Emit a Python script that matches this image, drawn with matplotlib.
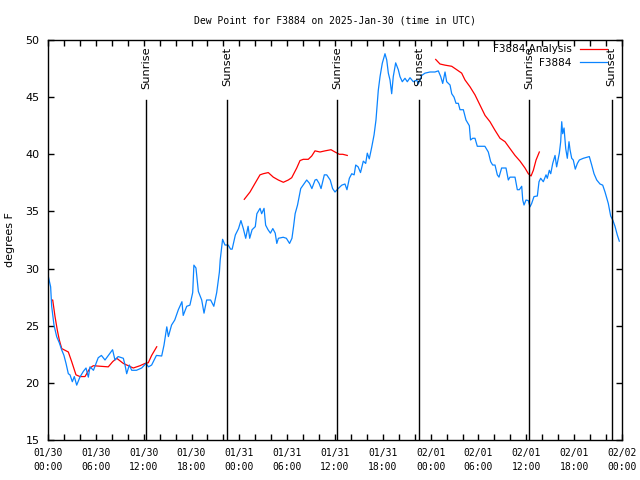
import matplotlib
matplotlib.use("Agg")
import matplotlib.pyplot as plt
from matplotlib.lines import Line2D
import numpy as np

# ---- data (hours since 2025-01-30 00:00 UTC) ----
obs_t = [0.0,0.33,0.46,0.75,1.09,1.42,1.71,2.0,2.26,2.55,2.76,3.05,3.3,3.6,4.0,4.43,4.77,5.06,5.27,5.7,
         6.3,6.7,7.15,7.57,8.1,8.4,8.8,9.45,9.66,9.87,10.2,10.5,11.1,11.75,12.3,12.6,13.0,13.6,14.26,14.55,
         14.9,15.1,15.5,15.9,16.35,16.8,16.96,17.4,17.8,18.15,18.3,18.56,18.86,19.28,19.57,19.9,20.4,20.8,21.16,21.5,
         21.6,21.9,22.2,22.6,22.9,23.1,23.5,23.9,24.2,24.5,24.8,25.1,25.3,25.6,26.0,26.2,26.6,26.8,27.1,27.3,
         27.6,27.9,28.2,28.5,28.7,28.9,29.5,29.9,30.3,30.6,30.8,31.0,31.3,31.5,31.7,32.0,32.45,32.8,33.1,33.5,
         33.7,34.0,34.25,34.66,34.96,35.4,35.7,36.0,36.4,36.85,37.25,37.5,37.8,38.1,38.4,38.6,38.9,39.2,39.55,39.85,
         40.05,40.3,40.6,40.9,41.14,41.43,41.65,41.93,42.27,42.49,42.69,42.9,43.11,43.31,43.61,43.94,44.15,44.44,44.78,45.07,
         45.41,45.82,46.25,46.45,46.88,47.29,47.92,48.54,48.96,49.26,49.51,49.8,50.01,50.43,50.64,50.93,51.18,51.47,51.68,52.1,
         52.43,52.85,53.0,53.27,53.56,53.85,54.3,54.8,55.23,55.53,55.78,56.07,56.36,56.57,56.9,57.45,57.74,57.95,58.58,58.87,
         59.12,59.42,59.55,59.71,59.96,60.25,60.46,60.67,60.96,61.38,61.59,61.8,62.13,62.47,62.63,62.88,63.06,63.31,63.6,63.8,
         64.14,64.31,64.44,64.56,64.73,64.94,65.14,65.35,65.48,65.69,65.89,66.14,66.4,66.65,67.15,67.9,68.2,68.49,68.83,69.24,
         69.58,69.87,70.28,70.58,70.84,71.12,71.41,71.66]
obs_v = [29.44,28.4,26.7,25.06,24.04,23.5,22.9,22.4,21.7,20.8,20.7,20.1,20.55,19.8,20.5,21.0,21.3,20.5,21.4,21.1,
         22.2,22.4,22.0,22.4,22.9,22.0,22.3,22.15,21.56,20.8,21.56,21.1,21.1,21.3,21.7,21.4,21.56,22.4,22.35,23.3,
         24.9,24.05,25.06,25.5,26.4,27.1,25.9,26.7,26.8,27.9,30.3,30.05,28.0,27.25,26.1,27.25,27.25,26.7,27.9,29.7,
         30.75,32.56,32.06,32.06,31.7,31.7,32.94,33.5,34.2,33.5,32.65,33.7,32.65,33.4,33.67,34.8,35.27,34.8,35.27,33.8,
         33.4,33.1,33.5,33.1,32.2,32.65,32.74,32.65,32.2,32.65,33.67,34.8,35.56,36.3,37.0,37.3,37.75,37.46,37.0,37.75,
         37.8,37.46,37.0,38.2,38.2,37.75,37.0,36.7,37.0,37.3,37.4,36.9,37.9,38.3,38.2,39.06,38.9,38.4,39.4,39.2,
         40.1,39.6,40.6,41.7,43.0,45.6,46.8,47.96,48.8,48.25,47.1,46.5,45.3,46.8,48.0,47.4,46.8,46.35,46.65,46.35,
         46.7,46.35,46.5,46.15,46.9,47.1,47.2,47.2,47.3,46.8,46.2,47.2,46.35,46.06,45.3,45.0,44.46,44.46,43.9,43.9,
         43.0,42.5,41.25,41.4,41.4,40.7,40.7,40.7,40.2,39.35,39.06,39.06,38.2,38.0,38.8,38.8,37.75,38.0,38.0,36.9,
         36.9,37.2,36.0,35.56,36.0,35.95,35.4,35.7,36.3,36.35,37.6,37.9,37.6,38.2,37.9,38.6,38.3,39.2,39.9,38.9,
         40.1,41.1,42.85,41.8,42.3,40.5,39.65,41.1,40.4,39.65,39.5,38.7,39.2,39.5,39.65,39.8,39.06,38.3,37.75,37.4,
         37.3,36.7,35.7,34.6,34.25,33.7,32.94,32.4]

ana1_t = [0.46,0.59,0.88,1.17,1.42,1.72,2.55,2.97,3.51,4.01,4.64,5.27,5.68,7.56,8.12,8.62,9.45,10.07,10.7,11.54,12.17,12.58,13.0,13.64]
ana1_v = [27.25,27.25,25.8,24.6,23.75,23.0,22.7,21.86,20.7,20.55,20.55,21.3,21.5,21.4,21.86,22.15,21.7,21.5,21.3,21.5,21.7,21.76,22.4,23.16]
ana2_t = [24.62,25.34,25.97,26.59,27.0,27.63,28.26,28.89,29.52,30.14,30.57,31.2,31.61,32.02,32.65,33.08,33.49,34.12,34.75,35.5,36.0,36.54,36.97,37.54]
ana2_v = [36.06,36.7,37.46,38.2,38.3,38.4,38.0,37.75,37.55,37.75,37.95,38.8,39.45,39.56,39.56,39.85,40.3,40.2,40.3,40.4,40.2,40.0,40.0,39.9]
ana3_t = [48.63,49.17,49.8,50.64,51.27,51.89,52.31,52.94,53.56,54.19,54.82,55.44,56.07,56.7,57.33,57.95,58.58,59.21,59.83,60.25,60.59,60.88,61.22,61.63]
ana3_v = [48.3,47.9,47.8,47.7,47.4,47.1,46.5,45.9,45.2,44.3,43.4,42.85,42.1,41.4,41.1,40.5,39.9,39.4,38.8,38.3,38.1,38.6,39.5,40.2]

sun_t = [12.29, 22.5, 36.3, 46.58, 60.38, 70.7]
sun_lbl = ["Sunrise", "Sunset", "Sunrise", "Sunset", "Sunrise", "Sunset"]

xtick_pos = [0, 6, 12, 18, 24, 30, 36, 42, 48, 54, 60, 66, 72]
xtick_lbl = ["01/30\n00:00", "01/30\n06:00", "01/30\n12:00", "01/30\n18:00",
             "01/31\n00:00", "01/31\n06:00", "01/31\n12:00", "01/31\n18:00",
             "02/01\n00:00", "02/01\n06:00", "02/01\n12:00", "02/01\n18:00",
             "02/02\n00:00"]

RED = "#ff0000"
BLUE = "#0a84ff"
mono = "DejaVu Sans Mono"
sans = "DejaVu Sans"

fig = plt.figure(figsize=(6.4, 4.8), dpi=100)
ax = fig.add_axes([48/640, 40/480, 574/640, 400/480])

for tt, vv in [(ana1_t, ana1_v), (ana2_t, ana2_v), (ana3_t, ana3_v)]:
    ax.plot(tt, vv, color=RED, lw=0.9)
ax.plot(obs_t, obs_v, color=BLUE, lw=0.9)

for st, sl in zip(sun_t, sun_lbl):
    ax.plot([st, st], [15, 44.75], color="black", lw=1.0)
    ax.text(st, 49.4, sl, rotation=90, ha="center", va="top",
            fontsize=8.2, family=sans)

ax.set_xlim(0, 72)
ax.set_ylim(15, 50)
ax.set_xticks(xtick_pos)
ax.set_xticklabels(xtick_lbl, family=mono, fontsize=7, linespacing=1.45)
ax.set_xticks(np.arange(0, 73, 2), minor=True)
ax.set_yticks(np.arange(15, 51, 5))
ax.set_yticklabels([str(v) for v in range(15, 51, 5)], family=sans, fontsize=8)
ax.tick_params(axis="both", which="both", direction="in", top=True, right=True,
               length=4, width=1)
ax.tick_params(axis="x", which="major", pad=6)
ax.tick_params(axis="y", which="major", pad=6)
for s in ax.spines.values():
    s.set_linewidth(1)

ax.set_ylabel("degrees F", family=sans, fontsize=8)
ax.yaxis.set_label_coords(-0.057, 0.5)
ax.set_title("Dew Point for F3884 on 2025-Jan-30 (time in UTC)", family=mono,
             fontsize=7, pad=12)

handles = [Line2D([], [], color=RED, lw=0.9), Line2D([], [], color=BLUE, lw=0.9)]
ax.legend(handles, ["F3884 Analysis", "F3884"], loc="upper right",
          bbox_to_anchor=(0.974, 0.989), borderaxespad=0, borderpad=0,
          markerfirst=False, frameon=False, handlelength=2.6, handletextpad=0.8,
          labelspacing=0.35, prop={"family": sans, "size": 7.5})

fig.savefig("out.png", dpi=100)
